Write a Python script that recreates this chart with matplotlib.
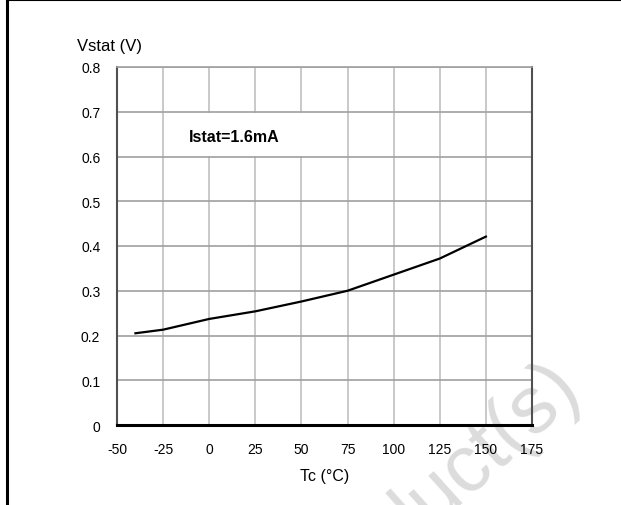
import numpy as np
import matplotlib.pyplot as plt
from matplotlib.patches import Rectangle

plt.rcParams['font.family'] = ['Liberation Sans', 'DejaVu Sans']
plt.rcParams['axes.unicode_minus'] = False

# Datos
tc = [-40, -25, 0, 25, 50, 75, 100, 125, 150]
vstat = [0.205, 0.213, 0.237, 0.254, 0.276, 0.300, 0.336, 0.372, 0.421]
xticks = [-50, -25, 0, 25, 50, 75, 100, 125, 150, 175]
yticks = [0, 0.1, 0.2, 0.3, 0.4, 0.5, 0.6, 0.7, 0.8]
ylabels = ['0', '0.1', '0.2', '0.3', '0.4', '0.5', '0.6', '0.7', '0.8']

fig = plt.figure(figsize=(6.21, 5.06), dpi=100)

# marca de agua (detras de todo)
fig.text(478/621, 1-458/506, 'duct(s)', fontsize=58, color='#dcdcdc',
         rotation=42, ha='center', va='center', zorder=-1)

ax = fig.add_axes([117/621, 1-426/506, 415/621, 358/506])
ax.patch.set_alpha(0)

ax.set_xlim(-50, 175)
ax.set_ylim(0, 0.8)
ax.set_xticks(xticks)
ax.set_yticks(yticks)
ax.set_yticklabels(ylabels)
ax.tick_params(length=0, labelsize=10, pad=12)

# rejilla: verticales mas claras que horizontales
for x in xticks[1:-1]:
    ax.axvline(x, color='#c0c0c0', lw=1.2, zorder=1)
for y in yticks[1:]:
    ax.axhline(y, color='#a0a0a0', lw=1.2, zorder=1)

ax.add_patch(Rectangle((-24.4, 0.602), 98.8, 0.096, facecolor='white',
                       edgecolor='none', zorder=2))
ax.text(-11, 0.645, 'Istat=1.6mA', fontsize=11.5, fontweight='bold',
        va='center', zorder=3)

ax.plot(tc, vstat, color='black', lw=1.6, zorder=4)

for s in ['left', 'right']:
    ax.spines[s].set_color('#505050')
    ax.spines[s].set_linewidth(1.5)
ax.spines['top'].set_color('#a0a0a0')
ax.spines['top'].set_linewidth(1.2)
ax.spines['bottom'].set_color('black')
ax.spines['bottom'].set_linewidth(2.2)

fig.text(77/621, 1-47/506, 'Vstat (V)', fontsize=12, va='center')
fig.text(325/621, 1-477/506, 'Tc (°C)', fontsize=11.5, ha='center', va='center')

# marco de la pagina
fig.add_artist(plt.Line2D([7/621, 7/621], [0, 1], color='black', lw=2.2))
fig.add_artist(plt.Line2D([7/621, 1], [1-1/506, 1-1/506], color='black', lw=1.5))

fig.savefig('out.png', dpi=100)
